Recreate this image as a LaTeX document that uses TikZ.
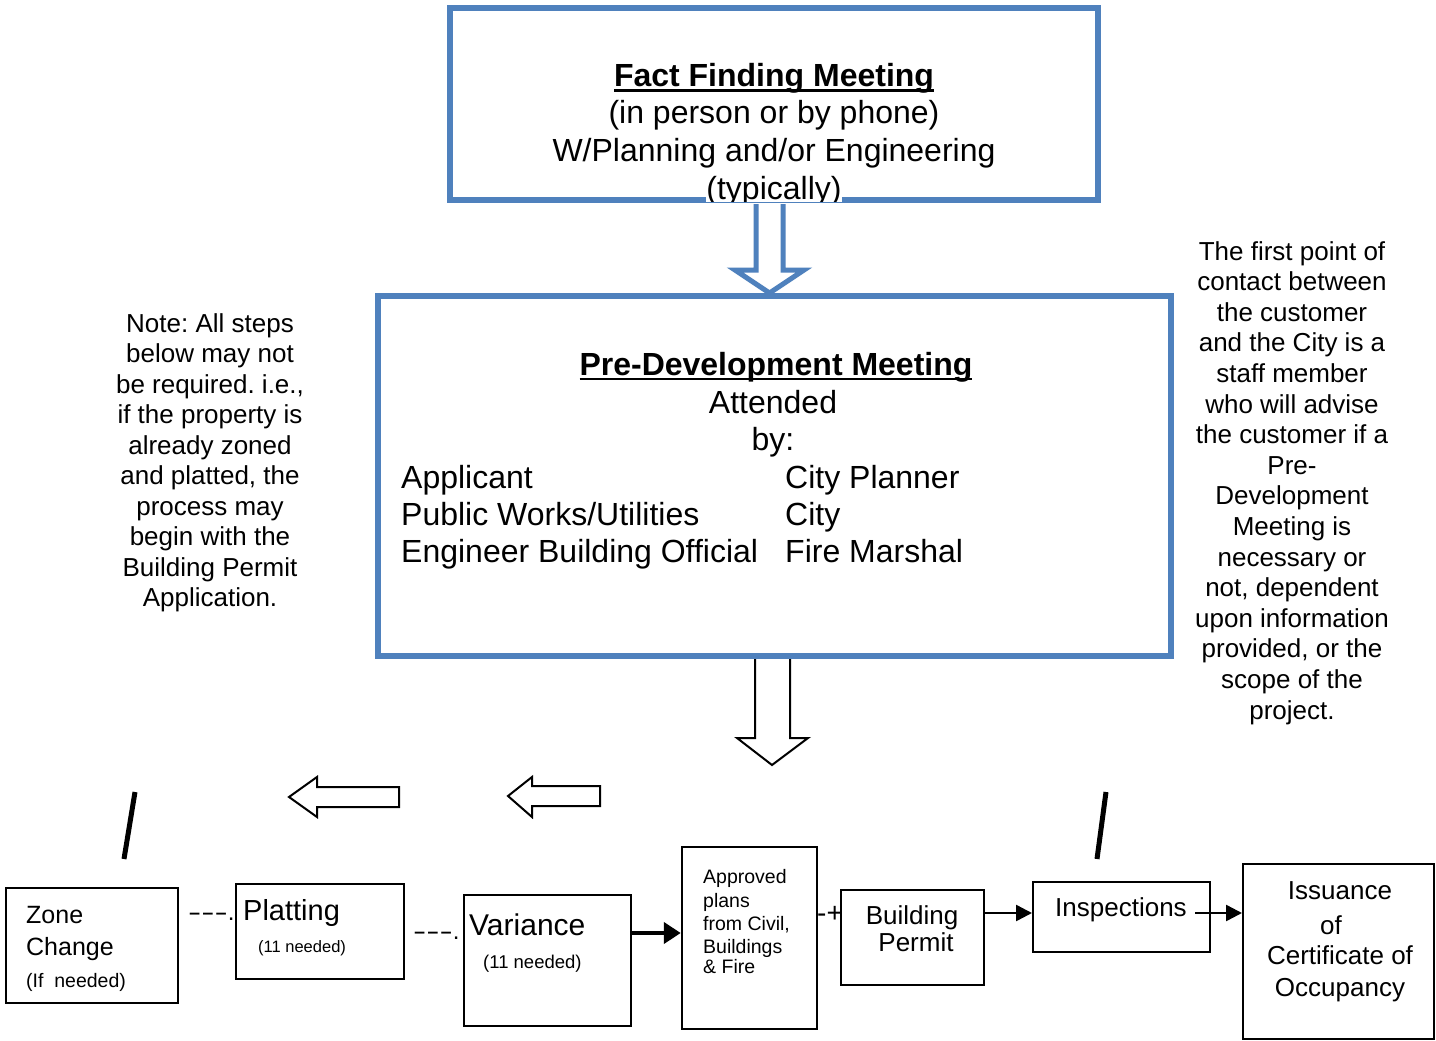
\documentclass[tikz,border=0pt]{standalone}
\usepackage{fontspec}
\setmainfont{Liberation Sans}
\usetikzlibrary{arrows.meta}
\definecolor{ofblue}{HTML}{4F81BD}
\newcommand\myul[1]{\setbox0\hbox{#1}\rlap{\rule[-5pt]{\wd0}{2.5pt}}\box0}
\frenchspacing
\begin{document}
\begin{tikzpicture}[x=1pt,y=-1pt,
  bluebox/.style={draw=ofblue,line width=6pt,inner sep=0pt},
  bbox/.style={draw=black,line width=2pt,inner sep=0pt},
  t/.style={inner sep=0pt,anchor=base},
  tl/.style={inner sep=0pt,anchor=base west},
  conn/.style={line width=2.5pt,-{Triangle[length=16pt,width=16pt]}},
  blockarrow/.style={draw=black,line width=2pt,fill=white,line join=miter},
  big/.style={font=\fontsize{32}{38}\selectfont},
  mid/.style={font=\fontsize{26}{30}\selectfont},
  note/.style={inner sep=0pt,anchor=base,font=\fontsize{26}{30}\selectfont},
]
\useasboundingbox (0,0) rectangle (1436,1041);
\fill[white] (0,0) rectangle (1436,1041);

% ---------- Fact finding box
\node[bluebox,minimum width=648pt,minimum height=192pt] (fact) at (774,104) {};
\node[t,font=\fontsize{32}{38}\selectfont\bfseries] (factT) at (774,87) {\myul{Fact Finding Meeting}};
\node[t,big] (factA) at (774,124) {(in person or by phone)};
\node[t,big] (factB) at (774,161) {W/Planning and/or Engineering};
\begin{scope}
  \clip (600,150) rectangle (950,201.5);
  \node[t,big,fill=white] (factC) at (774,199) {(typically)};
\end{scope}

% blue arrow
\draw[draw=ofblue,line width=5pt,fill=white,line join=miter]
  (756,204) -- (756,270) -- (735,270) -- (769.5,293) -- (804,270) -- (783,270) -- (783,204);

% ---------- Pre-development box
\node[bluebox,minimum width=793pt,minimum height=360pt] (pre) at (774.5,476) {};
\node[t,font=\fontsize{32}{38}\selectfont\bfseries] (preT) at (776,375) {\myul{Pre-Development Meeting}};
\node[t,big] (preA) at (773,413) {Attended};
\node[t,big] (preB) at (773,450) {by:};
\node[tl,big] (p1) at (401,488) {Applicant};
\node[tl,big] (p2) at (401,525) {Public Works/Utilities};
\node[tl,big] (p3) at (401,562) {Engineer Building Official};
\node[tl,big] (q1) at (785,488) {City Planner};
\node[tl,big] (q2) at (785,525) {City};
\node[tl,big] (q3) at (785,562) {Fire Marshal};

% ---------- Side notes
\foreach \s [count=\i] in {{Note: All steps},{below may not},{be required. i.e.,},{if the property is},{already zoned},{and platted, the},{process may},{begin with the},{Building Permit},{Application.}}
  \node[note] (ln\i) at (210,{332+30.55*(\i-1)}) {\s};
\foreach \s [count=\i] in {{The first point of},{contact between},{the customer},{and the City is a},{staff member},{who will advise},{the customer if a},{Pre-},{Development},{Meeting is},{necessary or},{not, dependent},{upon information},{provided, or the},{scope of the},{project.}}
  \node[note] (rn\i) at (1292,{260+30.6*(\i-1)}) {\s};

% ---------- black block arrows
\draw[blockarrow] (755,659) -- (755,738) -- (737,738) -- (772,765) -- (808,738) -- (790,738) -- (790,659);
\draw[blockarrow] (399,787) -- (317,787) -- (317,777) -- (289,797) -- (317,817) -- (317,807) -- (399,807) -- cycle;
\draw[blockarrow] (600,786) -- (532,786) -- (532,777) -- (508,796) -- (532,817) -- (532,806) -- (600,806) -- cycle;

% slashes
\draw[line width=5pt] (135,792) -- (124,859);
\draw[line width=5pt] (1106,792) -- (1097,859);

% ---------- bottom boxes
\node[bbox,minimum width=172pt,minimum height=115pt] (zone) at (92,945.5) {};
\node[bbox,minimum width=168pt,minimum height=95pt] (plat) at (320,931.5) {};
\node[bbox,minimum width=167pt,minimum height=131pt] (var) at (547.5,960.5) {};
\node[bbox,line width=2.5pt,minimum width=135pt,minimum height=182pt] (appr) at (749.5,938) {};
\node[bbox,minimum width=143pt,minimum height=95pt] (bp) at (912.5,937.5) {};
\node[bbox,minimum width=177pt,minimum height=70pt] (insp) at (1121.5,917) {};
\node[bbox,minimum width=191pt,minimum height=175pt] (iss) at (1338.5,951.5) {};

% texts
\node[tl,font=\fontsize{25}{30}\selectfont] (zoneA) at (26,923) {Zone};
\node[tl,font=\fontsize{25}{30}\selectfont] (zoneB) at (26,955) {Change};
\node[tl,font=\fontsize{19.5}{24}\selectfont] (zoneC) at (26,987) {(If\ \ needed)};

\node[tl,font=\fontsize{29}{34}\selectfont] (platA) at (243,920) {Platting};
\node[tl,font=\fontsize{16.5}{20}\selectfont] (platB) at (258,952) {(11 needed)};

\node[tl,font=\fontsize{30}{34}\selectfont] (varA) at (469,935) {Variance};
\node[tl,font=\fontsize{18.5}{22}\selectfont] (varB) at (483,968) {(11 needed)};

\node[tl,font=\fontsize{19.5}{22}\selectfont] (ap1) at (703,883) {Approved};
\node[tl,font=\fontsize{19.5}{22}\selectfont] (ap2) at (703,907) {plans};
\node[tl,font=\fontsize{19.5}{22}\selectfont] (ap3) at (703,930) {from Civil,};
\node[tl,font=\fontsize{19.5}{22}\selectfont] (ap4) at (703,953) {Buildings};
\node[tl,font=\fontsize{19.5}{22}\selectfont] (ap5) at (703,973) {\& Fire};

\node[t,mid] (bpA) at (912,924) {Building};
\node[t,mid] (bpB) at (916,951) {Permit};

\node[tl,mid] (inspA) at (1055,916) {Inspections};

\node[t,mid] (isA) at (1340,899) {Issuance};
\node[t,mid] (isB) at (1331,934) {of};
\node[t,mid] (isC) at (1340,964) {Certificate of};
\node[t,mid] (isD) at (1340,996) {Occupancy};

% dash texts
\node[tl,font=\fontsize{24}{28}\selectfont] (d1) at (188,920) {\scalebox{1.65}[1]{-{}-{}-}.};
\node[tl,font=\fontsize{24}{28}\selectfont] (d2) at (413,939) {\scalebox{1.65}[1]{-{}-{}-}.};
\node[tl,font=\fontsize{28}{32}\selectfont] (d3) at (817,922) {-+};

% ---------- connectors
\coordinate (ya) at (0,933);
\coordinate (yb) at (0,913);
\coordinate (istart) at (1195,913);
\draw[line width=4.5pt,-{Triangle[length=17pt,width=21pt]}] (var.east |- ya) -- (appr.west |- ya);
\draw[conn] (bp.east |- yb) -- (insp.west |- yb);
\draw[conn] (istart) -- (iss.west |- yb);
\end{tikzpicture}
\end{document}
